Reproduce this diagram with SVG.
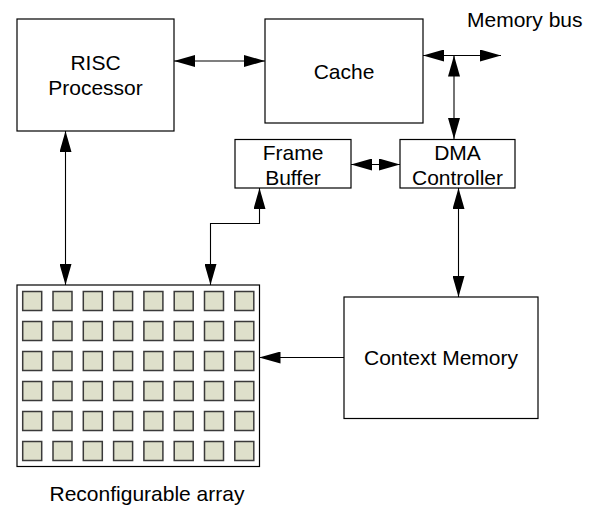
<svg xmlns="http://www.w3.org/2000/svg" width="598" height="508" viewBox="0 0 598 508">
  <defs>
    <marker id="head" viewBox="0 0 21 12" refX="21" refY="6" markerWidth="21" markerHeight="12" markerUnits="userSpaceOnUse" orient="auto-start-reverse">
      <path d="M0,0 L21,6 L0,12 z" fill="#000"/>
    </marker>
    <rect id="cell" width="19" height="19" class="cell"/>
  </defs>
  <style>
    .box { fill: #fff; stroke: #000; stroke-width: 1.2; }
    .cell { fill: #dee0cb; stroke: #3a3a3a; stroke-width: 1.5; }
    .lbl { font-family: "Liberation Sans", Arial, sans-serif; font-size: 21px; fill: #000; }
    .mid { text-anchor: middle; }
    .wire { fill: none; stroke: #000; stroke-width: 1.1; marker-start: url(#head); marker-end: url(#head); }
    .oneway { fill: none; stroke: #000; stroke-width: 1.1; marker-end: url(#head); }
  </style>
  <rect width="598" height="508" fill="#fff"/>

  <!-- connectors -->
  <g id="connectors">
    <line class="wire" x1="174" y1="61" x2="265" y2="61"/>
    <line class="wire" x1="423" y1="55.5" x2="501" y2="55.5"/>
    <line class="wire" x1="454" y1="55.5" x2="454" y2="139"/>
    <line class="wire" x1="351" y1="164.5" x2="400" y2="164.5"/>
    <line class="wire" x1="458.5" y1="188" x2="458.5" y2="297"/>
    <line class="wire" x1="65.5" y1="131" x2="65.5" y2="285"/>
    <polyline class="wire" points="210.5,285 210.5,223.5 259.5,223.5 259.5,188"/>
    <line class="oneway" x1="344" y1="357.5" x2="259.5" y2="357.5"/>
  </g>

  <g id="risc">
    <rect class="box" x="17" y="19" width="157" height="112"/>
    <text class="lbl mid" x="95.5" y="69.5">RISC</text>
    <text class="lbl mid" x="95.5" y="95">Processor</text>
  </g>

  <g id="cache">
    <rect class="box" x="265" y="19" width="158" height="104"/>
    <text class="lbl mid" x="344" y="78.5">Cache</text>
  </g>

  <g id="memory-bus">
    <text class="lbl" x="467" y="27">Memory bus</text>
  </g>

  <g id="frame-buffer">
    <rect class="box" x="235" y="139.5" width="116" height="48.5"/>
    <text class="lbl mid" x="293" y="159.5">Frame</text>
    <text class="lbl mid" x="293" y="184.5">Buffer</text>
  </g>

  <g id="dma">
    <rect class="box" x="400" y="139.5" width="115" height="48.5"/>
    <text class="lbl mid" x="457.5" y="159.5">DMA</text>
    <text class="lbl mid" x="457.5" y="184.5">Controller</text>
  </g>

  <g id="context-memory">
    <rect class="box" x="344" y="297" width="194" height="121.5"/>
    <text class="lbl mid" x="441" y="364.5">Context Memory</text>
  </g>

  <g id="array">
    <rect class="box" x="17" y="285" width="242.5" height="181.5"/>
    <g id="cells">
      <g transform="translate(0,291.5)">
        <use href="#cell" x="22.7"/><use href="#cell" x="53"/><use href="#cell" x="83.3"/><use href="#cell" x="113.6"/><use href="#cell" x="143.9"/><use href="#cell" x="174.2"/><use href="#cell" x="204.5"/><use href="#cell" x="234.8"/>
      </g>
      <g transform="translate(0,321.5)">
        <use href="#cell" x="22.7"/><use href="#cell" x="53"/><use href="#cell" x="83.3"/><use href="#cell" x="113.6"/><use href="#cell" x="143.9"/><use href="#cell" x="174.2"/><use href="#cell" x="204.5"/><use href="#cell" x="234.8"/>
      </g>
      <g transform="translate(0,351.5)">
        <use href="#cell" x="22.7"/><use href="#cell" x="53"/><use href="#cell" x="83.3"/><use href="#cell" x="113.6"/><use href="#cell" x="143.9"/><use href="#cell" x="174.2"/><use href="#cell" x="204.5"/><use href="#cell" x="234.8"/>
      </g>
      <g transform="translate(0,381.5)">
        <use href="#cell" x="22.7"/><use href="#cell" x="53"/><use href="#cell" x="83.3"/><use href="#cell" x="113.6"/><use href="#cell" x="143.9"/><use href="#cell" x="174.2"/><use href="#cell" x="204.5"/><use href="#cell" x="234.8"/>
      </g>
      <g transform="translate(0,411.5)">
        <use href="#cell" x="22.7"/><use href="#cell" x="53"/><use href="#cell" x="83.3"/><use href="#cell" x="113.6"/><use href="#cell" x="143.9"/><use href="#cell" x="174.2"/><use href="#cell" x="204.5"/><use href="#cell" x="234.8"/>
      </g>
      <g transform="translate(0,441.5)">
        <use href="#cell" x="22.7"/><use href="#cell" x="53"/><use href="#cell" x="83.3"/><use href="#cell" x="113.6"/><use href="#cell" x="143.9"/><use href="#cell" x="174.2"/><use href="#cell" x="204.5"/><use href="#cell" x="234.8"/>
      </g>
    </g>
    <text class="lbl" x="49.5" y="501">Reconfigurable array</text>
  </g>
</svg>
